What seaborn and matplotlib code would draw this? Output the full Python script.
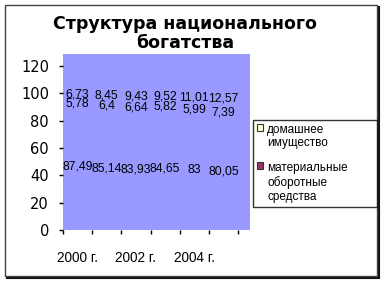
import matplotlib
matplotlib.use("Agg")
import matplotlib.pyplot as plt
from matplotlib.patches import Patch, Rectangle
import numpy as np
import pandas as pd
import seaborn as sns

# ---- data ----
years = ["2000 г.", "2001 г.", "2002 г.", "2003 г.", "2004 г.", "2005 г."]
fixed_assets = [87.49, 85.14, 83.93, 84.65, 83, 80.05]          # bottom series (not in visible legend)
working_capital = [5.78, 6.4, 6.64, 5.82, 5.99, 7.39]          # материальные оборотные средства
household = [6.73, 8.45, 9.43, 9.52, 11.01, 12.57]             # домашнее имущество
series_names = ["основные фонды", "материальные\nоборотные\nсредства", "домашнее\nимущество"]
series_colors = ["#9999FF", "#993366", "#FFFFCC"]
y_ticks = [0, 20, 40, 60, 80, 100, 120]
title = "Структура национального\nбогатства"

sns.set_theme(style="white")
plt.rcParams["font.family"] = ["Liberation Sans", "DejaVu Sans"]
plt.rcParams["text.color"] = "black"
plt.rcParams["xtick.color"] = "black"
plt.rcParams["ytick.color"] = "black"
plt.rcParams["axes.labelcolor"] = "black"

fig = plt.figure(figsize=(3.84, 2.84), dpi=100)
fig.patch.set_facecolor("white")

# outer chart border with shadow
fig.add_artist(Rectangle((7/384, 1-278/284), 372/384, 271/284, transform=fig.transFigure,
                         facecolor="#111111", edgecolor="#111111", linewidth=1.5, zorder=0))
fig.add_artist(Rectangle((5/384, 1-276/284), 372/384, 271/284, transform=fig.transFigure,
                         facecolor="white", edgecolor="#444444", linewidth=1.0, zorder=0.5))

ax = fig.add_axes([63/384, 1-230/284, 187/384, 176/284])
ax.set_zorder(1)
bg = "#9999FF"
ax.set_facecolor(bg)

series = [fixed_assets, working_capital, household]
cum = np.zeros(len(years))
cums = []
for s in series:
    cum = cum + np.array(s)
    cums.append(cum.copy())
# draw cumulative layers, tallest first (bars are the same colour as the plot area)
for c in reversed(cums):
    sns.barplot(x=years, y=c, color=bg, saturation=1, ax=ax, width=0.6,
                linewidth=0, zorder=1)

# value labels centred on each segment
bottoms = np.zeros(len(years))
for s in series:
    for i, v in enumerate(s):
        lab = f"{v:g}".replace(".", ",")
        ax.text(i, bottoms[i] + v/2 + 2.5, lab, ha="center", va="center",
                fontsize=8.8, color="black", zorder=3)
    bottoms = bottoms + np.array(s)

ax.set_xlim(-0.5, 5.91)
ax.set_ylim(0, 128.8)
ax.set_yticks(y_ticks)
ax.set_yticklabels([str(t) for t in y_ticks], fontsize=10.5, family="DejaVu Sans")
ax.set_xticks(np.arange(-0.5, 6, 1.0))
ax.set_xticklabels([""] * 7)
ax.set_xticks([0, 2, 4], minor=True)
ax.set_xticklabels([years[0], years[2], years[4]], minor=True, fontsize=9.8)
ax.tick_params(axis="x", which="major", direction="out", length=3, width=1, color="black", bottom=True)
ax.tick_params(axis="x", which="minor", length=0, pad=15, bottom=True, labelcolor="black")
ax.tick_params(axis="y", direction="out", length=3, width=1, color="black", pad=7, left=True,
               labelcolor="black")
ax.set_xlabel("")
ax.set_ylabel("")
for sp in ax.spines.values():
    sp.set_visible(False)

fig.text(185/384, 1-15/284, title, ha="center", va="top", fontsize=12.5, color="black",
         fontweight="bold", family="DejaVu Sans", linespacing=1.1, zorder=5)

handles = [Patch(facecolor=series_colors[2], edgecolor="#333333", linewidth=0.8),
           Patch(facecolor=series_colors[1], edgecolor="#333333", linewidth=0.8)]
labels = [series_names[2], series_names[1]]
leg = fig.legend(handles, labels, loc="upper left",
                 bbox_to_anchor=(253/384, 1-120/284, 124/384, 0.0), mode="expand",
                 fontsize=8.5, frameon=True, fancybox=False, edgecolor="black",
                 handlelength=0.55, handleheight=0.55, handletextpad=0.35,
                 labelspacing=1.1, borderpad=0.3, borderaxespad=0)
leg.get_frame().set_linewidth(1.0)
leg.set_zorder(6)
for t in leg.get_texts():
    t.set_color("black")
# align each legend marker with the first line of its label
for col in leg._legend_handle_box.get_children():
    for row in col.get_children():
        row.align = "top"

fig.savefig("out.png", dpi=100)
